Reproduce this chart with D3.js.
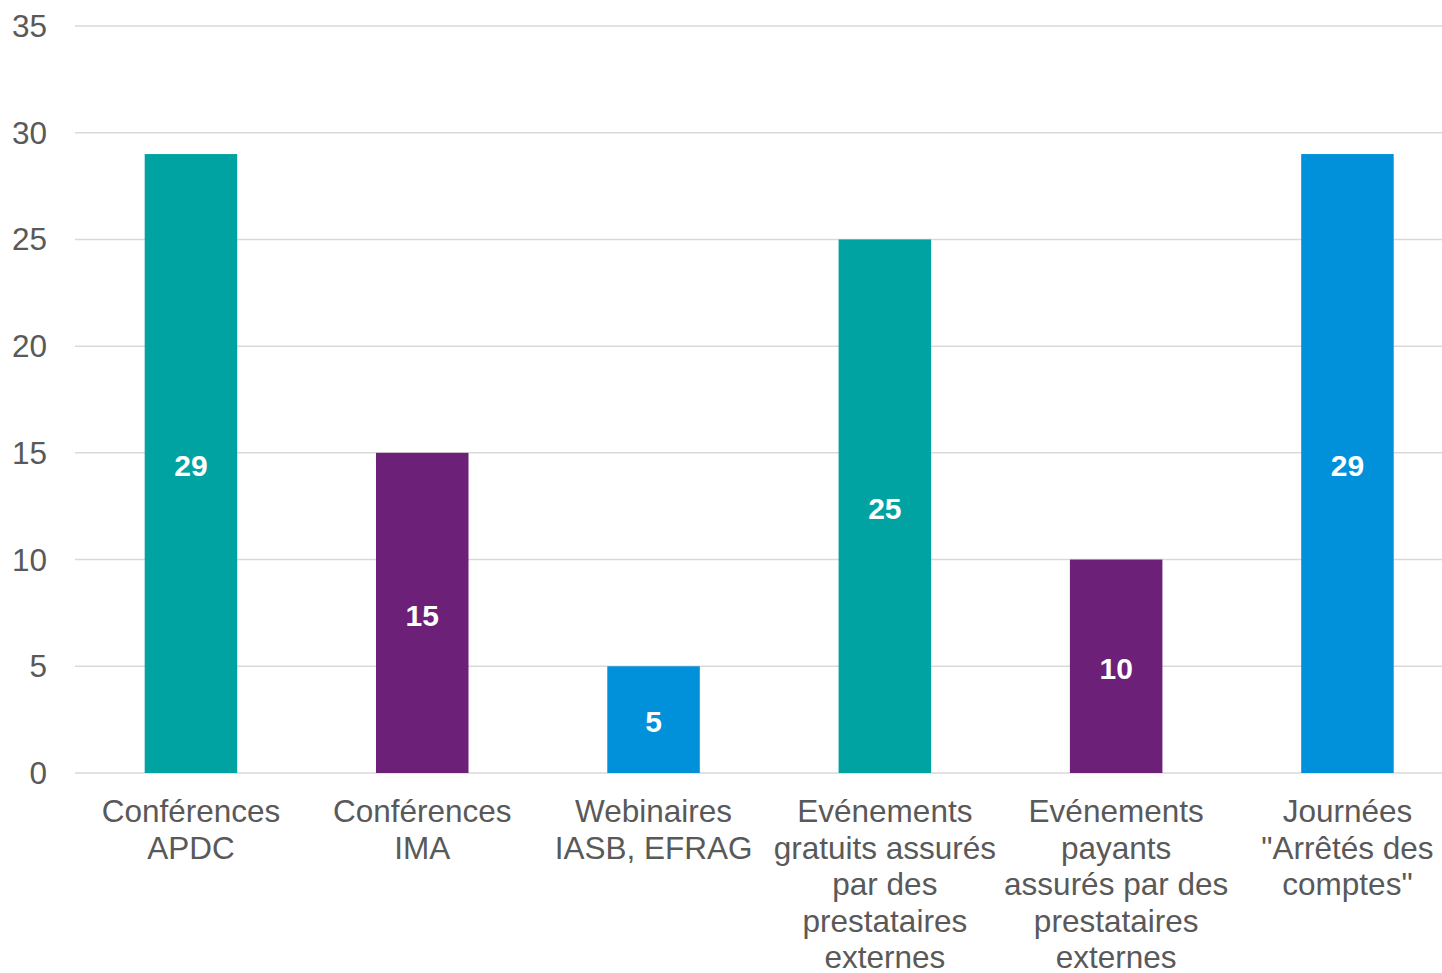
<!DOCTYPE html>
<html>
<head>
<meta charset="utf-8">
<script src="https://cdn.jsdelivr.net/npm/d3@7"></script>
<style>
  html, body { margin: 0; padding: 0; background: #fff; }
  svg { display: block; }
  text { font-family: "Liberation Sans", Arial, sans-serif; }
</style>
</head>
<body>
<svg id="chart" width="1442" height="973"></svg>
<script>
const categories = [
  "Conférences\nAPDC",
  "Conférences\nIMA",
  "Webinaires\nIASB, EFRAG",
  "Evénements\ngratuits assurés\npar des\nprestataires\nexternes",
  "Evénements\npayants\nassurés par des\nprestataires\nexternes",
  "Journées\n\"Arrêtés des\ncomptes\""
];
const values = [29, 15, 5, 25, 10, 29];
const barColors = ["#00A3A1", "#6D2077", "#0091DA", "#00A3A1", "#6D2077", "#0091DA"];
const yTicks = [0, 5, 10, 15, 20, 25, 30, 35];

const svg = d3.select("#chart");
const W = 1442;

const x = d3.scaleBand()
  .domain(d3.range(categories.length))
  .range([75.3, 1463.1])
  .paddingInner(0.6)
  .paddingOuter(0.3);

const y = d3.scaleLinear().domain([0, 35]).range([773, 26]);

// gridlines
svg.append("g").selectAll("line")
  .data(yTicks)
  .join("line")
  .attr("x1", 75).attr("x2", W)
  .attr("y1", d => y(d)).attr("y2", d => y(d))
  .attr("stroke", "#d9d9d9").attr("stroke-width", 1.5);

// y tick labels
svg.append("g").selectAll("text")
  .data(yTicks)
  .join("text")
  .attr("x", 47).attr("y", d => y(d))
  .attr("dy", "0.35em")
  .attr("text-anchor", "end")
  .attr("fill", "#595959")
  .attr("font-size", "31.5px")
  .text(d => d);

// bars
svg.append("g").selectAll("rect")
  .data(values)
  .join("rect")
  .attr("x", (d, i) => x(i))
  .attr("width", x.bandwidth())
  .attr("y", d => y(d))
  .attr("height", d => y(0) - y(d))
  .attr("fill", (d, i) => barColors[i]);

// value labels
svg.append("g").selectAll("text")
  .data(values)
  .join("text")
  .attr("x", (d, i) => x(i) + x.bandwidth() / 2)
  .attr("y", d => (y(d) + y(0)) / 2)
  .attr("dy", "0.42em")
  .attr("text-anchor", "middle")
  .attr("fill", "#fff")
  .attr("font-weight", "bold")
  .attr("font-size", "30px")
  .text(d => d);

// category labels
const cat = svg.append("g").selectAll("text")
  .data(categories)
  .join("text")
  .attr("text-anchor", "middle")
  .attr("fill", "#595959")
  .attr("font-size", "31.5px")
  .attr("transform", (d, i) => `translate(${x(i) + x.bandwidth() / 2},822)`);
cat.selectAll("tspan")
  .data(d => d.split("\n"))
  .join("tspan")
  .attr("x", 0)
  .attr("y", (d, j) => j * 36.6)
  .text(d => d);
</script>
</body>
</html>
